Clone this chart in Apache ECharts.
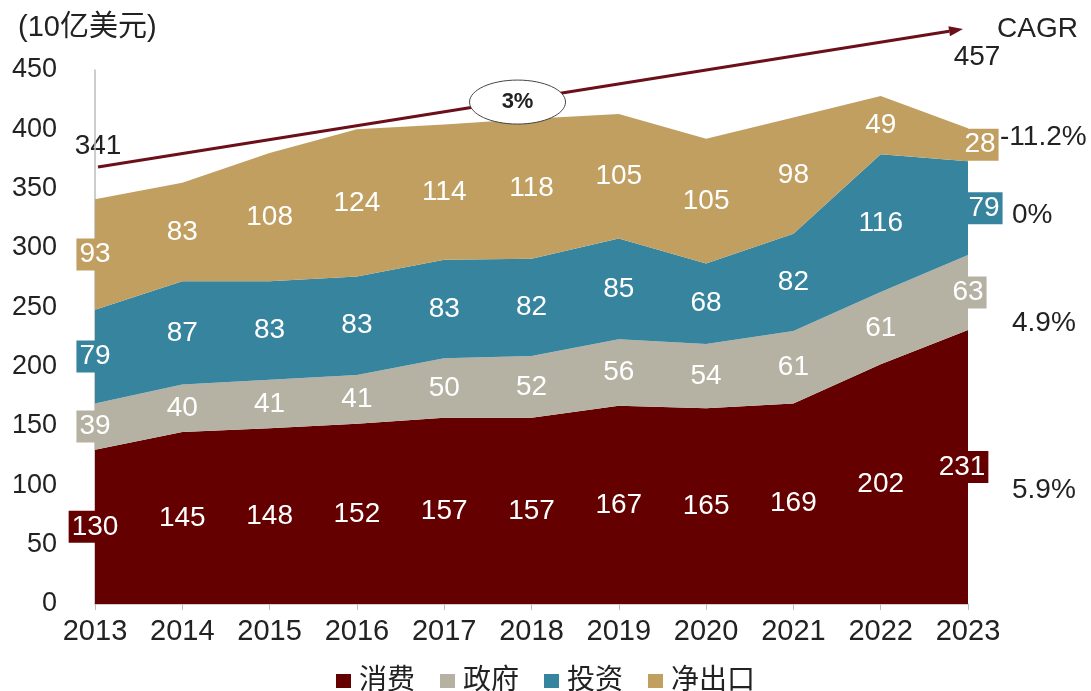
<!DOCTYPE html>
<html>
<head>
<meta charset="utf-8">
<script src="https://cdn.jsdelivr.net/npm/echarts@6/dist/echarts.min.js"></script>
<style>
  html, body { margin: 0; padding: 0; background: #fff; }
  #chart { width: 1091px; height: 691px; }
</style>
</head>
<body>
<div id="chart"></div>
<script>
  const years = ['2013', '2014', '2015', '2016', '2017', '2018', '2019', '2020', '2021', '2022', '2023'];
  const consumption = [130, 145, 148, 152, 157, 157, 167, 165, 169, 202, 231];
  const government = [39, 40, 41, 41, 50, 52, 56, 54, 61, 61, 63];
  const investment = [79, 87, 83, 83, 83, 82, 85, 68, 82, 116, 79];
  const netExports = [93, 83, 108, 124, 114, 118, 105, 105, 98, 49, 28];
  const seriesNames = ['消费', '政府', '投资', '净出口'];
  const cagr = ['5.9%', '4.9%', '0%', '-11.2%'];
  const totalFirst = '341';
  const totalLast = '457';
  const totalCagr = '3%';

  const FONT = '"Liberation Sans", Arial, "Noto Sans CJK SC", sans-serif';
  const colors = ['#650000', '#b5b2a3', '#37849f', '#c09f60'];
  // how far the 2023 label sits right of the axis end
  const lastOffset = [-6, 0, 16, 12];

  const values = [consumption, government, investment, netExports];
  const last = years.length - 1;

  const areaSeries = values.map((arr, k) => ({
    name: seriesNames[k],
    type: 'line',
    stack: 'total',
    data: arr,
    symbol: 'none',
    lineStyle: { width: 0 },
    areaStyle: { color: colors[k], opacity: 1 },
    itemStyle: { color: colors[k] },
    z: 2
  }));

  // labels sit in the middle of each band
  const base = years.map(() => 0);
  const labelSeries = values.map((arr, k) => {
    const data = arr.map((v, i) => {
      const item = { value: [i, base[i] + v / 2], raw: v };
      if (i === 0 || i === last) {
        item.label = {
          backgroundColor: colors[k],
          offset: [i === last ? lastOffset[k] : 0, 0]
        };
      }
      return item;
    });
    arr.forEach((v, i) => { base[i] += v; });
    return {
      type: 'scatter',
      symbolSize: 0,
      silent: true,
      itemStyle: { opacity: 1, color: colors[k] },
      data: data,
      label: {
        show: true,
        position: 'inside',
        formatter: p => p.data.raw,
        color: '#fff',
        fontSize: 28,
        fontFamily: FONT,
        padding: [3, 3, 1, 3]
      },
      z: 5
    };
  });

  const chart = echarts.init(document.getElementById('chart'));
  chart.setOption({
    animation: false,
    textStyle: { fontFamily: FONT },
    grid: { left: 95, right: 123, top: 70, bottom: 87 },
    legend: {
      data: seriesNames,
      bottom: -9,
      left: 'center',
      icon: 'rect',
      itemWidth: 15,
      itemHeight: 14,
      itemGap: 25,
      textStyle: { fontSize: 28, color: '#222', fontFamily: FONT, padding: [0, 0, 0, 3] }
    },
    xAxis: {
      type: 'category',
      data: years,
      boundaryGap: false,
      axisLine: { lineStyle: { color: '#bdbdbd', width: 1.5 } },
      axisTick: { show: true, length: 6, lineStyle: { color: '#bdbdbd' } },
      axisLabel: { fontSize: 29, color: '#222', margin: 13 }
    },
    yAxis: {
      type: 'value',
      min: 0,
      max: 450,
      interval: 50,
      axisLine: { show: true, lineStyle: { color: '#bdbdbd', width: 1.5 } },
      axisTick: { show: false },
      splitLine: { show: false },
      axisLabel: { fontSize: 27, color: '#222', margin: 38 }
    },
    series: areaSeries.concat(labelSeries)
  });

  // trend arrow, ellipse and CAGR notes
  const x0 = 98, y0 = 167, x1 = 963, y1 = 29;
  const len = Math.hypot(x1 - x0, y1 - y0);
  const ux = (x1 - x0) / len, uy = (y1 - y0) / len;
  const hl = 14, hw = 5;
  const bx = x1 - ux * hl, by = y1 - uy * hl;
  const mx = x0 + (x1 - x0) * 0.485, my = y0 + (y1 - y0) * 0.485;
  const textStyle = { fill: '#222', fontSize: 28, fontFamily: FONT };

  chart.setOption({
    graphic: [
      { type: 'text', left: 18, top: 13, style: Object.assign({ text: '(10亿美元)' }, textStyle, { fontSize: 29 }) },
      {
        type: 'line', z: 10,
        shape: { x1: x0, y1: y0, x2: bx, y2: by },
        style: { stroke: '#6b0f1a', lineWidth: 3 }
      },
      {
        type: 'polygon', z: 10,
        shape: { points: [[x1, y1], [bx + uy * hw, by - ux * hw], [bx - uy * hw, by + ux * hw]] },
        style: { fill: '#6b0f1a' }
      },
      {
        type: 'ellipse', z: 11,
        shape: { cx: mx, cy: my + 2, rx: 48, ry: 22 },
        style: { fill: '#fff', stroke: '#444', lineWidth: 1 }
      },
      {
        type: 'text', z: 12, x: mx, y: my + 2,
        style: { text: totalCagr, fill: '#222', fontSize: 22, fontWeight: 'bold', fontFamily: FONT, align: 'center', verticalAlign: 'middle' }
      },
      { type: 'text', x: 98, y: 146, style: Object.assign({ text: totalFirst, align: 'center', verticalAlign: 'middle' }, textStyle) },
      { type: 'text', x: 977, y: 57, style: Object.assign({ text: totalLast, align: 'center', verticalAlign: 'middle' }, textStyle) },
      { type: 'text', x: 997, y: 29, style: Object.assign({ text: 'CAGR', verticalAlign: 'middle' }, textStyle) },
      { type: 'text', x: 1000, y: 137, style: Object.assign({ text: cagr[3], verticalAlign: 'middle' }, textStyle) },
      { type: 'text', x: 1012, y: 215, style: Object.assign({ text: cagr[2], verticalAlign: 'middle' }, textStyle) },
      { type: 'text', x: 1012, y: 323, style: Object.assign({ text: cagr[1], verticalAlign: 'middle' }, textStyle) },
      { type: 'text', x: 1012, y: 490, style: Object.assign({ text: cagr[0], verticalAlign: 'middle' }, textStyle) }
    ]
  });

  window.onresize = function () {
    chart.resize();
  };
</script>
</body>
</html>
